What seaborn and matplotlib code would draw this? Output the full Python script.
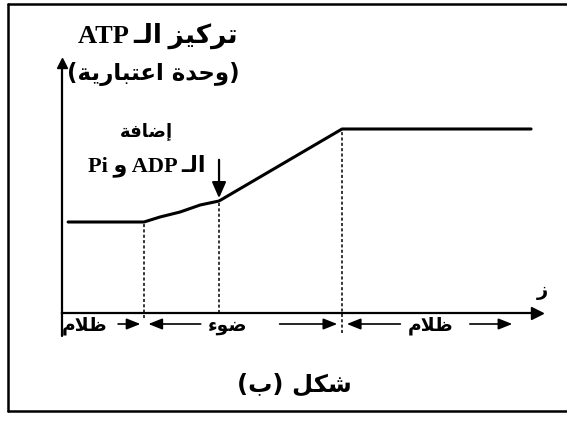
import matplotlib
matplotlib.use("Agg")
import matplotlib.pyplot as plt
from matplotlib.lines import Line2D
import seaborn as sns
import pandas as pd

# ---------------- data (arbitrary units) ----------------
time = [0.15, 2.0, 2.39, 2.88, 3.37, 3.83, 6.83, 11.44]
atp = [3.64, 3.64, 3.84, 4.04, 4.32, 4.48, 7.36, 7.36]
phase_bounds = [0.0, 2.0, 6.83, 11.44]          # dark | light | dark
phase_names = ["ظلام", "ضوء", "ظلام"]
addition_time = 3.83
addition_atp = 4.48

# ---------------- minimal Arabic shaping (presentation forms) ----------------
FORMS = {
    '\u0621': ('\uFE80', None, None, None),
    '\u0625': ('\uFE87', '\uFE88', None, None),
    '\u0627': ('\uFE8D', '\uFE8E', None, None),
    '\u0628': ('\uFE8F', '\uFE90', '\uFE91', '\uFE92'),
    '\u0629': ('\uFE93', '\uFE94', None, None),
    '\u062A': ('\uFE95', '\uFE96', '\uFE97', '\uFE98'),
    '\u062D': ('\uFEA1', '\uFEA2', '\uFEA3', '\uFEA4'),
    '\u062F': ('\uFEA9', '\uFEAA', None, None),
    '\u0631': ('\uFEAD', '\uFEAE', None, None),
    '\u0632': ('\uFEAF', '\uFEB0', None, None),
    '\u0634': ('\uFEB5', '\uFEB6', '\uFEB7', '\uFEB8'),
    '\u0636': ('\uFEBD', '\uFEBE', '\uFEBF', '\uFEC0'),
    '\u0638': ('\uFEC5', '\uFEC6', '\uFEC7', '\uFEC8'),
    '\u0639': ('\uFEC9', '\uFECA', '\uFECB', '\uFECC'),
    '\u0641': ('\uFED1', '\uFED2', '\uFED3', '\uFED4'),
    '\u0643': ('\uFED9', '\uFEDA', '\uFEDB', '\uFEDC'),
    '\u0644': ('\uFEDD', '\uFEDE', '\uFEDF', '\uFEE0'),
    '\u0645': ('\uFEE1', '\uFEE2', '\uFEE3', '\uFEE4'),
    '\u0648': ('\uFEED', '\uFEEE', None, None),
    '\u064A': ('\uFEF1', '\uFEF2', '\uFEF3', '\uFEF4'),
    '\u0640': ('\u0640', '\u0640', '\u0640', '\u0640'),
}
LAMALEF = {'\u0627': ('\uFEFB', '\uFEFC'), '\u0625': ('\uFEF9', '\uFEFA')}


def _jl(c):
    return c in FORMS and FORMS[c][2] is not None


def _jr(c):
    return c in FORMS and FORMS[c][1] is not None


def shape(s):
    out, i, n = [], 0, len(s)
    while i < n:
        c = s[i]
        if c not in FORMS:
            out.append(c)
            i += 1
            continue
        prev = s[i - 1] if i > 0 else None
        cp = prev is not None and _jl(prev) and _jr(c)
        if c == '\u0644' and i + 1 < n and s[i + 1] in LAMALEF:
            out.append(LAMALEF[s[i + 1]][1 if cp else 0])
            i += 2
            continue
        nxt = s[i + 1] if i + 1 < n else None
        cn = nxt is not None and _jl(c) and _jr(nxt)
        f = FORMS[c]
        out.append(f[3] if (cp and cn) else f[1] if cp else f[2] if cn else f[0])
        i += 1
    return ''.join(out)


def rtl(s):
    return shape(s)[::-1]


title1 = "ATP " + rtl("تركيز الـ")
title2 = "(" + rtl("وحدة اعتبارية") + ")"
add1 = rtl("إضافة")
add2 = "Pi " + rtl("و") + " ADP " + rtl("الـ")
time_lbl = rtl("ز")
fig_lbl = "(" + rtl("ب") + ") " + rtl("شكل")

# ---------------- figure ----------------
sns.set_theme(style="white")
plt.rcParams['font.family'] = ['DejaVu Sans']
plt.rcParams['text.color'] = 'black'

W, H = 567, 421
fig = plt.figure(figsize=(W / 100, H / 100), dpi=100)
fig.patch.set_facecolor("white")

# frame (left, top, bottom; right side cut off)
fx0, fy_top, fy_bot = 8 / W, 1 - 4 / H, 1 - 411 / H
for xs, ys in [([fx0, fx0], [fy_bot, fy_top]),
               ([fx0, 1.0], [fy_top, fy_top]),
               ([fx0, 1.0], [fy_bot, fy_bot])]:
    fig.add_artist(Line2D(xs, ys, color="black", lw=1.8, transform=fig.transFigure))

ax = fig.add_axes([62 / W, (H - 313) / H, (537 - 62) / W, (313 - 63) / H])
ax.set_xlim(0, 11.585)
ax.set_ylim(0, 10)
ax.set_facecolor("none")
ax.set_xticks([])
ax.set_yticks([])
for s in ["top", "right"]:
    ax.spines[s].set_visible(False)
for s in ["left", "bottom"]:
    ax.spines[s].set_color("black")
    ax.spines[s].set_linewidth(1.6)
ax.plot(1, 0, marker=">", color="black", ms=8, transform=ax.transAxes, clip_on=False)
ax.plot(0, 1, marker="^", color="black", ms=7, transform=ax.transAxes, clip_on=False)
# small extension of y axis below the time axis
ax.plot([0, 0], [0, -0.9], color="black", lw=1.6, clip_on=False)

df = pd.DataFrame({"t": time, "atp": atp})
sns.lineplot(data=df, x="t", y="atp", color="black", lw=2.2, ax=ax, sort=False)

# dashed verticals at phase changes / addition
dash_tops = [atp[1], addition_atp, atp[-1]]
dash_x = [phase_bounds[1], addition_time, phase_bounds[2]]
dash_bottom = [-0.2, 0.0, -0.8]
for x, yt, yb in zip(dash_x, dash_tops, dash_bottom):
    ax.plot([x, x], [yb, yt], color="black", lw=1.1, ls=(0, (2, 1.5)), clip_on=False)

# addition arrow
ax.annotate("", xy=(addition_time, addition_atp), xytext=(addition_time, 6.24),
            arrowprops=dict(arrowstyle="-|>,head_length=0.8,head_width=0.35", color="black", lw=1.6),
            annotation_clip=False)
ax.text(2.05, 7.28, add1, ha="center", va="center", fontsize=13, fontweight="bold",
        family=["DejaVu Sans"])
ax.text(2.07, 5.9, add2, ha="center", va="center", fontsize=16, fontweight="bold",
        family=["Liberation Serif", "DejaVu Sans"])

# y label (title)
fig.text(158 / W, 1 - 36 / H, title1, ha="center", va="center", fontsize=19, fontweight="bold",
         family=["Liberation Serif", "DejaVu Sans"])
fig.text(153 / W, 1 - 74 / H, title2, ha="center", va="center", fontsize=16.5, fontweight="bold",
         family=["DejaVu Sans"])

# time label
ax.text(11.72, 0.92, time_lbl, ha="center", va="center", fontsize=14, fontweight="bold")

# phase row
yr = -0.44
ap = dict(arrowstyle="-|>,head_length=0.7,head_width=0.28", color="black", lw=1.2)
arrows = [(1.3, 1.98), (3.45, 2.04), (5.24, 6.78), (8.32, 6.88), (9.88, 11.05)]
for a, b in arrows:
    ax.annotate("", xy=(b, yr), xytext=(a, yr), arrowprops=ap, annotation_clip=False)
label_x = [0.54, 4.05, 8.98]
for x, name in zip(label_x, phase_names):
    ax.text(x, yr - 0.05, rtl(name), ha="center", va="center", fontsize=13.5, fontweight="bold")

# figure caption
fig.text(294 / W, 1 - 385 / H, fig_lbl, ha="center", va="center", fontsize=17.5, fontweight="bold")

fig.savefig("out.png", dpi=100, facecolor="white")
